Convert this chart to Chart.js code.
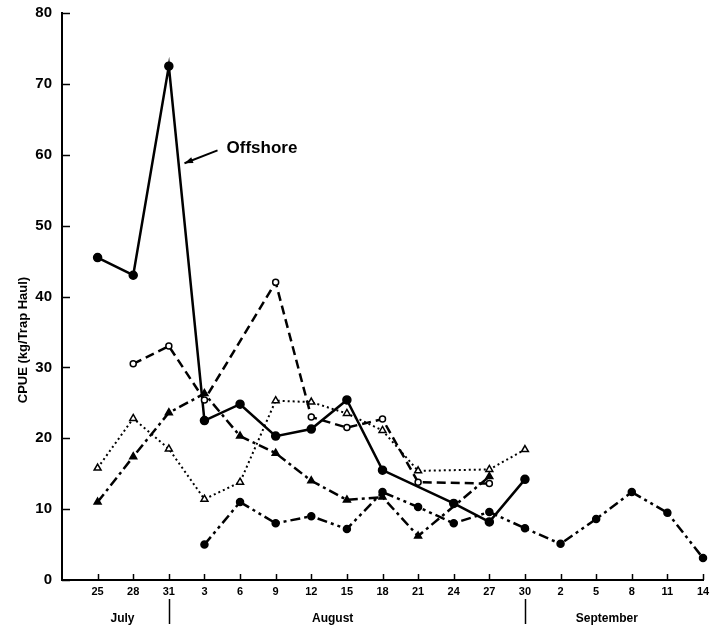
<!DOCTYPE html>
<html>
<head>
<meta charset="utf-8">
<script src="https://cdn.jsdelivr.net/npm/chart.js@4"></script>
<style>
  html, body { margin: 0; padding: 0; background: #fff; }
  canvas { display: block; }
</style>
</head>
<body>
<canvas id="cpueChart" width="711" height="637"></canvas>
<script>
// sampling dates (day of month), July 25 .. September 14
const categories = ['25', '28', '31', '3', '6', '9', '12', '15', '18', '21', '24', '27', '30', '2', '5', '8', '11', '14'];
const yTicks = [0, 10, 20, 30, 40, 50, 60, 70, 80];

// CPUE (kg/trap haul) by station
const offshore     = [45.5, 43.0, 72.5, 22.5, 24.8, 20.3, 21.3, 25.4, 15.5, null, 10.8, 8.2, 14.2, null, null, null, null, null];
const openCircle   = [null, 30.5, 33.0, 25.4, null, 42.0, 23.0, 21.5, 22.7, 13.8, null, 13.6, null, null, null, null, null, null];
const openTriangle = [15.8, 22.8, 18.5, 11.4, 13.8, 25.3, 25.1, 23.5, 21.1, 15.4, null, 15.6, 18.4, null, null, null, null, null];
const solidTri     = [11.0, 17.4, 23.6, 26.3, 20.3, 17.9, 14.0, 11.3, 11.7, 6.2, null, 14.6, null, null, null, null, null, null];
const dashDotDot   = [null, null, null, 5.0, 11.0, 8.0, 9.0, 7.2, 12.4, 10.3, 8.0, 9.6, 7.3, 5.1, 8.6, 12.4, 9.5, 3.1];

const months = [
  { name: 'July', at: 0.7 },
  { name: 'August', at: 6.6 },
  { name: 'September', at: 14.3 }
];
const monthBreaks = [2, 12];

const FONT = '"Liberation Sans", Arial, Helvetica, sans-serif';

function pts(arr) {
  return arr.map((v, i) => ({ x: i, y: v }));
}

function series(arr, opts) {
  return Object.assign({
    data: pts(arr),
    borderColor: '#000',
    backgroundColor: '#000',
    pointBorderColor: '#000',
    borderWidth: 2.5,
    pointBorderWidth: 1.5,
    spanGaps: true,
    tension: 0,
    fill: false,
    clip: false
  }, opts);
}

// inward tick marks, month labels, separators, y title, "Offshore" callout
const extras = {
  id: 'extras',
  afterDraw(chart) {
    const ctx = chart.ctx;
    const xs = chart.scales.x, ys = chart.scales.y;
    const area = chart.chartArea;
    ctx.save();
    ctx.fillStyle = '#000';
    ctx.strokeStyle = '#000';

    ctx.lineWidth = 1.5;
    categories.forEach((c, i) => {
      const x = Math.round(xs.getPixelForValue(i)) + 0.5;
      ctx.beginPath();
      ctx.moveTo(x, area.bottom);
      ctx.lineTo(x, area.bottom - 6);
      ctx.stroke();
    });
    yTicks.forEach(v => {
      const y = Math.round(ys.getPixelForValue(v)) + 0.5;
      ctx.beginPath();
      ctx.moveTo(area.left, y);
      ctx.lineTo(area.left + 8, y);
      ctx.stroke();
    });

    ctx.font = 'bold 12px ' + FONT;
    ctx.textAlign = 'center';
    ctx.textBaseline = 'middle';
    months.forEach(m => ctx.fillText(m.name, xs.getPixelForValue(m.at), 619));

    monthBreaks.forEach(b => {
      const x = Math.round(xs.getPixelForValue(b)) + 0.5;
      ctx.beginPath();
      ctx.moveTo(x, 599);
      ctx.lineTo(x, 624);
      ctx.stroke();
    });

    ctx.save();
    ctx.translate(23, 340);
    ctx.rotate(-Math.PI / 2);
    ctx.font = 'bold 13px ' + FONT;
    ctx.fillText('CPUE (kg/Trap Haul)', 0, 0);
    ctx.restore();

    // callout
    const tx = xs.getPixelForValue(3.62), ty = ys.getPixelForValue(60.9);
    const hx = xs.getPixelForValue(2.44), hy = ys.getPixelForValue(58.8);
    const sx = tx - 9, sy = ty + 2;
    ctx.font = 'bold 17px ' + FONT;
    ctx.textAlign = 'left';
    ctx.fillText('Offshore', tx, ty);
    ctx.lineWidth = 2;
    ctx.beginPath();
    ctx.moveTo(sx, sy);
    ctx.lineTo(hx, hy);
    ctx.stroke();
    const a = Math.atan2(hy - sy, hx - sx);
    ctx.beginPath();
    ctx.moveTo(hx, hy);
    ctx.lineTo(hx - 9 * Math.cos(a - 0.35), hy - 9 * Math.sin(a - 0.35));
    ctx.lineTo(hx - 9 * Math.cos(a + 0.35), hy - 9 * Math.sin(a + 0.35));
    ctx.closePath();
    ctx.fill();
    ctx.restore();
  }
};

new Chart(document.getElementById('cpueChart').getContext('2d'), {
  type: 'line',
  data: {
    datasets: [
      series(dashDotDot, { borderDash: [10, 4, 3, 4, 3, 4], pointStyle: 'circle', pointRadius: 3.5, pointBackgroundColor: '#000' }),
      series(solidTri, { borderDash: [10, 4, 3, 4], pointStyle: 'triangle', pointRadius: 4, pointBackgroundColor: '#000' }),
      series(openTriangle, { borderWidth: 2, borderDash: [2, 3], pointStyle: 'triangle', pointRadius: 4, pointBackgroundColor: '#fff' }),
      series(openCircle, { borderDash: [9, 5], pointStyle: 'circle', pointRadius: 3, pointBackgroundColor: '#fff' }),
      series(offshore, { pointStyle: 'circle', pointRadius: 4, pointBackgroundColor: '#000' })
    ]
  },
  options: {
    responsive: false,
    animation: false,
    devicePixelRatio: 1,
    layout: { padding: { top: 13, right: 8, left: 0, bottom: 0 } },
    plugins: { legend: { display: false }, tooltip: { enabled: false } },
    scales: {
      x: {
        type: 'linear',
        min: -1,
        max: 17,
        afterFit: s => { s.height = 57; s.paddingLeft = 0; s.paddingRight = 0; },
        afterBuildTicks: s => { s.ticks = categories.map((c, i) => ({ value: i })); },
        ticks: {
          autoSkip: false,
          maxRotation: 0,
          padding: 5,
          color: '#000',
          font: { family: FONT, size: 11, weight: 'bold' },
          callback: v => categories[v] !== undefined ? categories[v] : ''
        },
        grid: { display: false, drawTicks: false },
        border: { display: true, color: '#000', width: 2 }
      },
      y: {
        min: 0,
        max: 80,
        afterFit: s => { s.width = 62; s.paddingTop = 0; s.paddingBottom = 0; },
        afterBuildTicks: s => { s.ticks = yTicks.map(v => ({ value: v })); },
        ticks: {
          padding: 10,
          color: '#000',
          font: { family: FONT, size: 15, weight: 'bold' }
        },
        grid: { display: false, drawTicks: false },
        border: { display: true, color: '#000', width: 2 }
      }
    }
  },
  plugins: [extras]
});
</script>
</body>
</html>
